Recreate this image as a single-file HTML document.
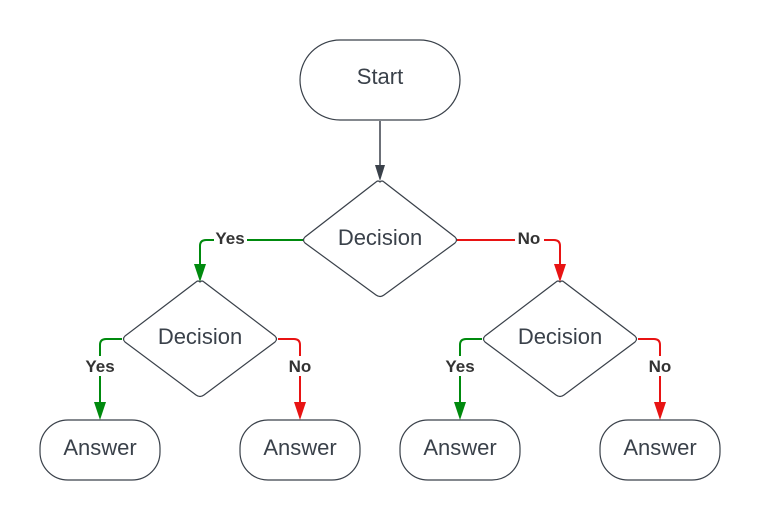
<!DOCTYPE html>
<html><head><style>body{margin:0;background:#fff}</style></head><body>
<svg width="760" height="520" xmlns="http://www.w3.org/2000/svg" font-family="Liberation Sans, sans-serif">
<g fill="none" stroke-width="2">
<path d="M303,240 H206 Q200,240 200,246 V270" stroke="#008a0e"/>
<path d="M457,240 H554 Q560,240 560,246 V270" stroke="#e81313"/>
<path d="M122,339 H106 Q100,339 100,345 V408" stroke="#008a0e"/>
<path d="M278,339 H294 Q300,339 300,345 V408" stroke="#e81313"/>
<path d="M482,339 H466 Q460,339 460,345 V408" stroke="#008a0e"/>
<path d="M638,339 H654 Q660,339 660,345 V408" stroke="#e81313"/>
<path d="M380,121 V168" stroke="#3a414a" stroke-width="1.5"/>
</g>
<g>
<path d="M194,264 L206,264 L200,282 Z" fill="#008a0e"/>
<path d="M554,264 L566,264 L560,282 Z" fill="#e81313"/>
<path d="M94,402 L106,402 L100,420 Z" fill="#008a0e"/>
<path d="M294,402 L306,402 L300,420 Z" fill="#e81313"/>
<path d="M454,402 L466,402 L460,420 Z" fill="#008a0e"/>
<path d="M654,402 L666,402 L660,420 Z" fill="#e81313"/>
<path d="M375,165 L385,165 L380,181 Z" fill="#3a414a"/>
</g>
<g fill="#fff" stroke="#3a414a" stroke-width="1.2">
<rect x="300" y="40" width="160" height="80" rx="40"/>
<path d="M380,182 Q382,180 384,182 L455,237 Q458,240 455,243 L384,295 Q380,298 376,295 L305,243 Q302,240 305,237 L376,182 Q378,180 380,182Z"/>
<path d="M200,282 Q202,280 204,282 L275,336 Q278,339 275,342 L204,395 Q200,398 196,395 L125,342 Q122,339 125,336 L196,282 Q198,280 200,282Z"/>
<path d="M560,282 Q562,280 564,282 L635,336 Q638,339 635,342 L564,395 Q560,398 556,395 L485,342 Q482,339 485,336 L556,282 Q558,280 560,282Z"/>
<rect x="40" y="420" width="120" height="60" rx="28"/>
<rect x="240" y="420" width="120" height="60" rx="28"/>
<rect x="400" y="420" width="120" height="60" rx="28"/>
<rect x="600" y="420" width="120" height="60" rx="28"/>
</g>
<g fill="#3a414a" font-size="22" text-anchor="middle">
<text x="380" y="84">Start</text>
<text x="380" y="245">Decision</text>
<text x="200" y="344">Decision</text>
<text x="560" y="344">Decision</text>
<text x="100" y="455">Answer</text>
<text x="300" y="455">Answer</text>
<text x="460" y="455">Answer</text>
<text x="660" y="455">Answer</text>
</g>
<g font-size="17" font-weight="bold" fill="#333" text-anchor="middle">
<rect x="214" y="229" width="33" height="20" fill="#fff"/><text x="230" y="244">Yes</text>
<rect x="515" y="229" width="29" height="20" fill="#fff"/><text x="529" y="244">No</text>
<rect x="83" y="356" width="34" height="20" fill="#fff"/><text x="100" y="372">Yes</text>
<rect x="286" y="356" width="28" height="20" fill="#fff"/><text x="300" y="372">No</text>
<rect x="443" y="356" width="34" height="20" fill="#fff"/><text x="460" y="372">Yes</text>
<rect x="646" y="356" width="28" height="20" fill="#fff"/><text x="660" y="372">No</text>
</g>
</svg>
</body></html>
